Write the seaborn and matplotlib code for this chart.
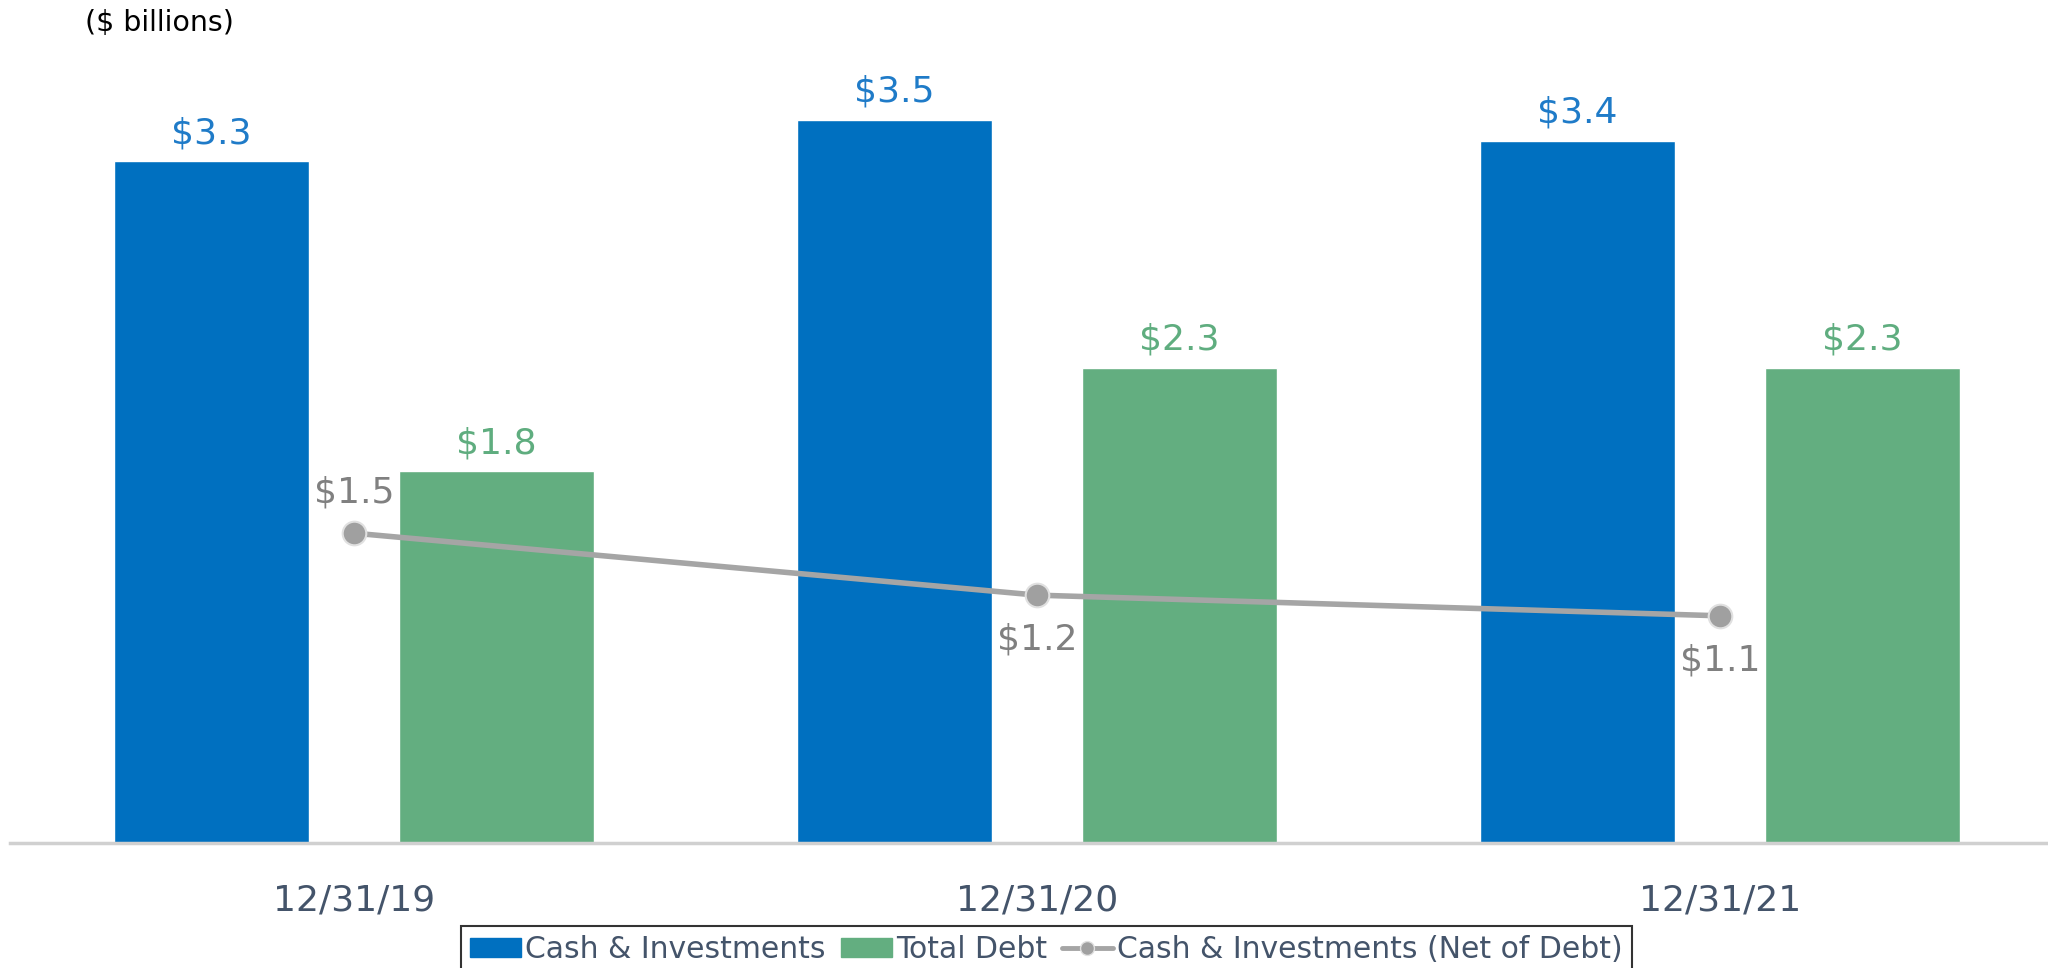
import numpy as np
import pandas as pd
import matplotlib.pyplot as plt
import seaborn as sns
from matplotlib.patches import Patch
from matplotlib.lines import Line2D

# data
dates = ["12/31/19", "12/31/20", "12/31/21"]
cash = [3.3, 3.5, 3.4]
debt = [1.8, 2.3, 2.3]
net = [1.5, 1.2, 1.1]
series = ["Cash & Investments", "Total Debt"]
net_label = "Cash & Investments (Net of Debt)"

blue = "#0070C0"
green = "#63AE80"
gray = "#A5A5A5"
text_dark = "#44546A"

df = pd.DataFrame({
    "date": dates * 2,
    "value": cash + debt,
    "series": [series[0]] * len(dates) + [series[1]] * len(dates),
})

sns.set_style("white")
plt.rcParams["font.family"] = ["DejaVu Sans"]

fig = plt.figure(figsize=(20.48, 9.68), dpi=100)
ax = fig.add_axes([0.005, 0.129, 0.995, 0.871])

sns.barplot(data=df, x="date", y="value", hue="series", order=dates,
            hue_order=series, palette=[blue, green], width=0.834, gap=0.316,
            saturation=1, legend=False, ax=ax)

# net of debt line
xpos = np.arange(len(dates))
ax.plot(xpos, net, color=gray, lw=4, marker="o", markersize=17,
        markerfacecolor="#A0A0A0", markeredgecolor="#E0E0E0",
        markeredgewidth=1.5, zorder=5)

# bar labels
for cont, col in zip(ax.containers, ["#1F7BC8", "#5FAD7F"]):
    ax.bar_label(cont, labels=[f"${b.get_height():.1f}" for b in cont],
                 padding=8, fontsize=26, color=col)

# line labels
for i, v in enumerate(net):
    off = 29 if i == 0 else -32
    ax.annotate(f"${v:.1f}", (i, v), xytext=(0, off), textcoords="offset points",
                ha="center", va="center", fontsize=26, color="#808080")

ax.set_xlim(-0.503, 2.48)
ax.set_ylim(0, 4.08)
ax.set_xlabel("")
ax.set_ylabel("")
ax.set_yticks([])
for s in ["top", "left", "right"]:
    ax.spines[s].set_visible(False)
ax.spines["bottom"].set_color("#D0D0D0")
ax.spines["bottom"].set_linewidth(2.5)
ax.tick_params(axis="x", length=0, pad=29, labelsize=26, labelcolor=text_dark)

fig.text(0.0415, 0.976, "($ billions)", fontsize=20.5, color="black", va="center")

handles = [
    Patch(facecolor=blue, edgecolor=blue),
    Patch(facecolor=green, edgecolor=green),
    Line2D([0], [0], color=gray, lw=3.5, marker="o", markersize=10,
           markerfacecolor="#A0A0A0", markeredgecolor="#E0E0E0"),
]
leg = fig.legend(handles, series + [net_label], loc="upper center",
                 bbox_to_anchor=(0.511, 0.0434), ncol=3, fontsize=21.5,
                 frameon=True, fancybox=False, edgecolor="black",
                 handlelength=1.7, handleheight=0.6, handletextpad=0.15,
                 columnspacing=0.5, borderpad=0.3, borderaxespad=0,
                 labelcolor=text_dark)
leg.get_frame().set_linewidth(1.5)

fig.savefig("out.png", dpi=100)
